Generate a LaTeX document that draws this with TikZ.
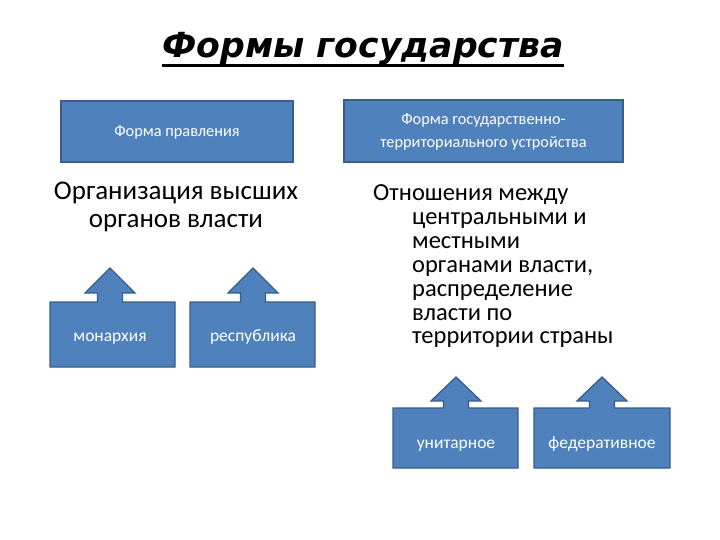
\documentclass[tikz,border=0pt]{standalone}
\usepackage{fontspec}
\setmainfont{Carlito}
\newfontfamily\titlefont{DejaVu Sans}[BoldItalicFont={DejaVu Sans Bold Oblique}]
\definecolor{boxfill}{HTML}{4F81BD}
\definecolor{boxline}{HTML}{385D8A}
\tikzset{
  bluebox/.style={draw=boxline, fill=boxfill, line width=1.3pt},
  boxtext/.style={text=white, font=\fontsize{16.3}{19}\selectfont, align=center, inner sep=0pt},
  calltext/.style={text=white, font=\fontsize{17.5}{20}\selectfont, inner sep=0pt, anchor=base},
  bigtext/.style={font=\fontsize{27}{28}\selectfont, inner sep=0pt, anchor=base},
  righttext/.style={font=\fontsize{24.5}{24}\selectfont, inner sep=0pt, anchor=base west},
}
% #1 x1, #2 x2, #3 top, #4 bottom, #5 tip x, #6 head base y, #7 tip y
\newcommand{\upcallout}[7]{%
  \draw[bluebox, line join=miter] (#1,#3) -- ({#5-12.5},#3) -- ({#5-12.5},#6) -- ({#5-25},#6)
    -- (#5,#7) -- ({#5+25},#6) -- ({#5+12.5},#6) -- ({#5+12.5},#3) -- (#2,#3)
    -- (#2,#4) -- (#1,#4) -- cycle;}
\begin{document}
\begin{tikzpicture}[x=1pt,y=-1pt]
\useasboundingbox (0,0) rectangle (720,540);
% title
\node[anchor=base, inner sep=0pt, font=\titlefont\bfseries\itshape\fontsize{34.6}{40}\selectfont] (title) at (363,58) {Формы государства};
\draw[line width=3pt] (title.west |- 0,66) -- (title.east |- 0,66);
% top boxes
\draw[bluebox] (61,101) rectangle (293,162);
\node[boxtext] (fp) at (177,132) {Форма правления};
\draw[bluebox] (344,100) rectangle (623,162);
\node[boxtext, anchor=base] (fgt1) at (483.5,125) {Форма государственно-};
\node[boxtext, anchor=base] (fgt2) at (483.5,148) {территориального устройства};
% big texts
\node[bigtext] (org1) at (176,200) {Организация высших};
\node[bigtext] (org2) at (176,228) {органов власти};
\node[righttext] (rel1) at (373,201) {Отношения между};
\node[righttext] (rel2) at (412,224.8) {центральными и};
\node[righttext] (rel3) at (412,248.6) {местными};
\node[righttext] (rel4) at (412,272.4) {органами власти,};
\node[righttext] (rel5) at (412,296.2) {распределение};
\node[righttext] (rel6) at (412,320) {власти по};
\node[righttext] (rel7) at (412,343.8) {территории страны};
% callouts
\upcallout{50}{175}{302}{367}{110}{293}{268}
\node[calltext] (mon) at (110,341) {монархия};
\upcallout{190}{315}{302}{367}{253}{293}{268}
\node[calltext] (rep) at (253,341) {республика};
\upcallout{393}{518}{408}{468}{456}{401}{377}
\node[calltext] (uni) at (456,448) {унитарное};
\upcallout{534}{670}{408}{468}{602}{401}{377}
\node[calltext] (fed) at (602,448) {федеративное};
\end{tikzpicture}
\end{document}
